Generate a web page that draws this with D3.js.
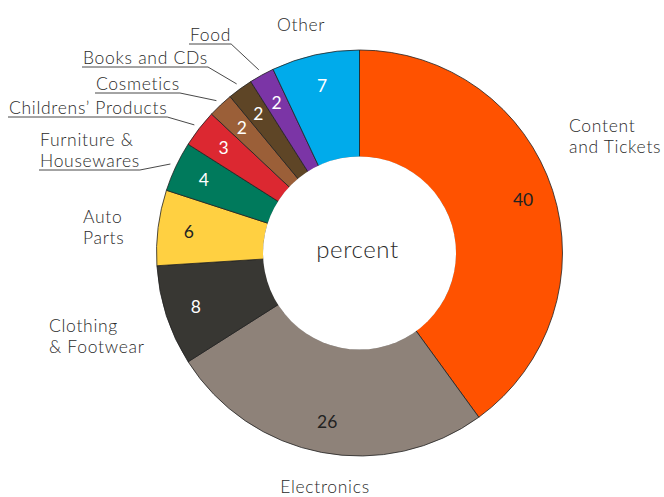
<!DOCTYPE html>
<html>
<head>
<meta charset="utf-8">
<script src="https://cdn.jsdelivr.net/npm/d3@7"></script>
<style>
  html, body { margin: 0; padding: 0; background: #fff; }
  svg { display: block; font-family: Lato, "Open Sans", sans-serif; }
</style>
</head>
<body>
<svg id="chart" width="664" height="497"></svg>
<script>
// Share of online sales by category, percent
const categories = [
  "Content and Tickets", "Electronics", "Clothing & Footwear", "Auto Parts",
  "Furniture & Housewares", "Childrens’ Products", "Cosmetics",
  "Books and CDs", "Food", "Other"
];
const values = [40, 26, 8, 6, 4, 3, 2, 2, 2, 7];
const colors = [
  "#ff5200", "#8e8279", "#383733", "#ffd041", "#007a5c",
  "#dc2831", "#9b5f38", "#5e4526", "#7b35a6", "#00abeb"
];
const valueInk = ["#222", "#222", "#fff", "#222", "#fff", "#fff", "#fff", "#fff", "#fff", "#fff"];

// Category name placement: text lines, anchor point, and whether a leader line is drawn
const nameLayout = {
  "Content and Tickets":   { lines: ["Content", "and Tickets"], x: 569, y: 132, anchor: "start" },
  "Electronics":           { lines: ["Electronics"], x: 325, y: 493, anchor: "middle" },
  "Clothing & Footwear":   { lines: ["Clothing", "& Footwear"], x: 49, y: 332, anchor: "start" },
  "Auto Parts":            { lines: ["Auto", "Parts"], x: 83, y: 223, anchor: "start" },
  "Furniture & Housewares":{ lines: ["Furniture &", "Housewares"], x: 40, y: 146, anchor: "start", leader: true },
  "Childrens’ Products":   { lines: ["Childrens’ Products"], x: 9, y: 114, anchor: "start", leader: true },
  "Cosmetics":             { lines: ["Cosmetics"], x: 96, y: 90, anchor: "start", leader: true },
  "Books and CDs":         { lines: ["Books and CDs"], x: 83, y: 64, anchor: "start", leader: true },
  "Food":                  { lines: ["Food"], x: 190, y: 41, anchor: "start", leader: true },
  "Other":                 { lines: ["Other"], x: 277, y: 31, anchor: "start" }
};

const data = categories.map((c, i) => ({ name: c, value: values[i], color: colors[i], ink: valueInk[i] }));

const svg = d3.select("#chart");
const cx = 359.5, cy = 253;
const outerR = 203, innerR = 96;
const lineH = 21;

const g = svg.append("g").attr("transform", `translate(${cx},${cy})`);

const pie = d3.pie().value(d => d.value).sort(null);
const arcs = pie(data);

const arc = d3.arc().innerRadius(innerR).outerRadius(outerR);
const labelArc = d3.arc().innerRadius(172).outerRadius(172);
const leaderArc = d3.arc().innerRadius(209).outerRadius(209);

g.selectAll("path.slice")
  .data(arcs)
  .join("path")
  .attr("class", "slice")
  .attr("d", arc)
  .attr("fill", d => d.data.color)
  .attr("stroke", "#222")
  .attr("stroke-width", 0.8);

// white hole over the inner edge
g.append("circle").attr("r", innerR + 0.5).attr("fill", "#fff");

g.append("text")
  .attr("x", -2).attr("y", 5)
  .attr("text-anchor", "middle")
  .attr("font-size", 24)
  .attr("font-weight", 300)
  .attr("letter-spacing", 0.6)
  .attr("fill", "#2a2a2a")
  .text("percent");

g.selectAll("text.value")
  .data(arcs)
  .join("text")
  .attr("class", "value")
  .attr("transform", d => `translate(${labelArc.centroid(d)})`)
  .attr("text-anchor", "middle")
  .attr("dominant-baseline", "central")
  .attr("font-size", 17.5)
  .attr("fill", d => d.data.ink)
  .text(d => d.data.value);

// category names with underline + leader for the narrow slices
const names = svg.append("g")
  .attr("fill", "#2a2a2a")
  .attr("font-size", 17.5)
  .attr("font-weight", 300)
  .attr("letter-spacing", 0.7);
arcs.forEach(d => {
  const L = nameLayout[d.data.name];
  const t = names.append("text")
    .attr("x", L.x).attr("y", L.y)
    .attr("text-anchor", L.anchor);
  L.lines.forEach((ln, i) => {
    t.append("tspan").attr("x", L.x).attr("y", L.y + i * lineH).text(ln);
  });
  if (L.leader) {
    const last = t.select("tspan:last-child").node();
    const bb = last.getBBox();
    const uy = L.y + (L.lines.length - 1) * lineH + 3;
    const x0 = bb.x - 1, x1 = bb.x + bb.width;
    const [px, py] = leaderArc.centroid(d);
    names.append("path")
      .attr("d", `M${x0},${uy}H${x1}L${cx + px},${cy + py}`)
      .attr("fill", "none")
      .attr("stroke", "#333")
      .attr("stroke-width", 0.9);
  }
});
</script>
</body>
</html>
